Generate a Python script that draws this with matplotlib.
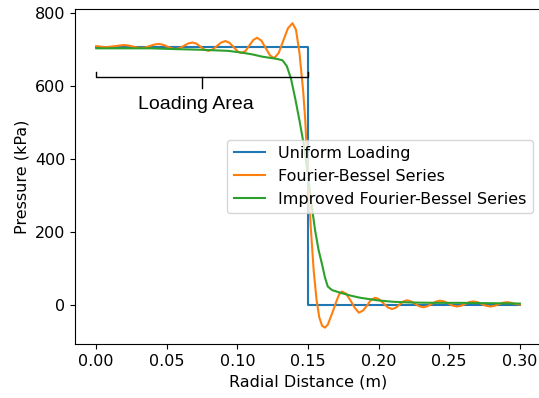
import matplotlib
matplotlib.use("Agg")
import matplotlib.pyplot as plt

plt.rcParams["font.size"] = 11.5

# values
uniform_r = [0.0, 0.15, 0.15, 0.30]
uniform_p = [709, 709, 0, 0]

fb_r = [0.0, 0.007, 0.0194, 0.0226, 0.0257, 0.0289, 0.032, 0.035, 0.0381, 0.0411,
        0.0442, 0.0472, 0.0502, 0.0532, 0.0562, 0.0592, 0.0622, 0.0652, 0.0682, 0.071,
        0.0739, 0.0767, 0.0795, 0.0825, 0.0855, 0.0885, 0.0915, 0.0944, 0.0973, 0.1001,
        0.103, 0.1058, 0.1085, 0.1113, 0.114, 0.117, 0.120, 0.123, 0.126, 0.1292,
        0.1325, 0.1358, 0.139, 0.1415, 0.144, 0.1465, 0.148, 0.150, 0.152, 0.154,
        0.156, 0.158, 0.160, 0.162, 0.164, 0.167, 0.170, 0.172, 0.174, 0.177,
        0.180, 0.183, 0.186, 0.189, 0.192, 0.1945, 0.1975, 0.2005, 0.2035, 0.2065,
        0.2095, 0.2121, 0.2148, 0.2174, 0.220, 0.2229, 0.2258, 0.2286, 0.2315, 0.2345,
        0.2375, 0.2405, 0.2435, 0.2465, 0.2495, 0.2525, 0.2555, 0.2584, 0.2613, 0.2641,
        0.267, 0.270, 0.273, 0.276, 0.279, 0.282, 0.285, 0.288, 0.291, 0.294,
        0.297, 0.300]
fb_p = [710, 707, 713, 711.8, 709, 706.2, 705, 706.6, 710.5, 714.4,
        716, 714, 709, 704, 702, 704.6, 711, 717.4, 720, 716.7,
        708.5, 700.3, 697, 701, 710.5, 720, 724, 719.2, 707.5, 695.8,
        691, 697, 712, 727, 733, 725, 705, 685, 677, 691,
        725, 759, 773, 755, 690, 590, 510, 355, 210, 95,
        15, -35, -58, -63, -55, -25, 8, 28, 36, 30,
        12, -8, -22, -16, -1.5, 13, 19, 14.5, 3.5, -7.5,
        -12, -8.5, 0, 8.5, 12, 9.2, 2.5, -4.2, -7, -4.4,
        2, 8.4, 11, 8.7, 3, -2.7, -5, -3, 2, 7,
        9, 7, 2, -3, -5, -3.3, 1, 5.3, 7, 5,
        2, 0]

ifb_r = [0.0, 0.02, 0.0385, 0.055, 0.075, 0.0936, 0.1035, 0.111, 0.1177, 0.1247,
         0.128, 0.132, 0.135, 0.138, 0.141, 0.144, 0.147, 0.150, 0.1525, 0.155,
         0.1575, 0.160, 0.162, 0.164, 0.167, 0.1728, 0.180, 0.187, 0.199, 0.210,
         0.222, 0.240, 0.258, 0.280, 0.300]
ifb_p = [704, 704, 704, 702, 700, 697, 692, 687, 681, 677,
         675, 671, 655, 620, 565, 505, 440, 355, 275, 205,
         150, 110, 75, 50, 40, 33, 25, 19, 12, 8,
         6, 5, 5, 4, 3]

# bracket marking the loaded region
load_start = 0.0
load_end = 0.15
bracket_p = 626
bracket_tip = 640
bracket_stem = 594
label_r = 0.0703
label_p = 551

fig = plt.figure(figsize=(5.39, 3.98), dpi=100)
ax = fig.add_axes([75 / 539, 54 / 398, 466 / 539, 335 / 398])

ax.plot(uniform_r, uniform_p, label="Uniform Loading")
ax.plot(fb_r, fb_p, label="Fourier-Bessel Series")
ax.plot(ifb_r, ifb_p, label="Improved Fourier-Bessel Series")

mid = (load_start + load_end) / 2
ax.plot([load_start, load_start, load_end, load_end],
        [bracket_tip, bracket_p, bracket_p, bracket_tip], color="black", lw=1)
ax.plot([mid, mid], [bracket_p, bracket_stem], color="black", lw=1)
ax.text(label_r, label_p, "Loading Area", ha="center", va="center",
        fontsize=14, family="Liberation Sans")

ax.set_xlim(-0.015, 0.315)
ax.set_ylim(-108, 812)
ax.set_xticks([0.0, 0.05, 0.10, 0.15, 0.20, 0.25, 0.30])
ax.set_yticks([0, 200, 400, 600, 800])
ax.spines["right"].set_visible(False)
ax.set_xlabel("Radial Distance (m)")
ax.set_ylabel("Pressure (kPa)")
ax.legend(loc="center right")

fig.savefig("out.png", dpi=100)
